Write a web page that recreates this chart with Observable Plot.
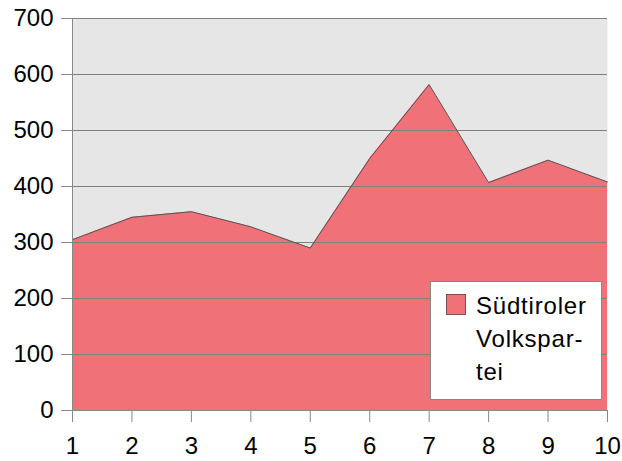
<!DOCTYPE html>
<html><head><meta charset="utf-8">
<script src="https://cdn.jsdelivr.net/npm/d3@7"></script>
<script src="https://cdn.jsdelivr.net/npm/@observablehq/plot@0.6"></script>
<style>
body{margin:0;background:#fff;font-family:"Liberation Sans",Arial,sans-serif;}
#wrap{position:relative;width:622px;height:461px;}
#legend{position:absolute;left:430px;top:281px;width:172px;height:119px;background:#fff;border:1px solid #888;box-sizing:border-box;font-size:24px;line-height:33px;color:#000;letter-spacing:0.8px;}
#legend .sw{position:absolute;left:15px;top:12px;width:20px;height:21px;background:#f07278;border:1px solid #7a5050;box-sizing:border-box;}
#legend .tx{position:absolute;left:45px;top:7px;}
</style></head>
<body><div id="wrap"></div>
<script>
const xs = [1,2,3,4,5,6,7,8,9,10];
const values = [305,345,355,328,290,450,582,407,447,408];
const seriesName = "Südtiroler Volkspartei";
const yTicks = [0,100,200,300,400,500,600,700];
const data = xs.map((x,i)=>({x, y: values[i]}));

const chart = Plot.plot({
  width: 622, height: 461,
  marginLeft: 72, marginRight: 15, marginTop: 18, marginBottom: 51,
  style: {fontFamily: '"Liberation Sans", Arial, sans-serif', fontSize: "24px", color: "#000", background: "#fff"},
  x: {domain: [1,10], label: null},
  y: {domain: [0,700], label: null},
  marks: [
    Plot.frame({fill: "#e6e6e6", stroke: null}),
    Plot.areaY(data, {x: "x", y: "y", fill: "#f07278"}),
    Plot.gridY(yTicks, {stroke: "#7f7f7f", strokeOpacity: 1, strokeWidth: 1}),
    Plot.lineY(data, {x: "x", y: "y", stroke: "#555", strokeWidth: 1}),
    Plot.axisY({ticks: yTicks, tickSize: 11, tickPadding: 8, stroke: "#888", fontSize: 24}),
    Plot.axisX({ticks: xs, tickSize: 12, tickPadding: 14, stroke: "#888", fontSize: 24, tickFormat: d=>String(d)}),
    Plot.ruleX([1], {stroke: "#888"}),
    Plot.ruleY([0], {stroke: "#888"})
  ]
});
const wrap = document.getElementById("wrap");
wrap.appendChild(chart);
const lg = document.createElement("div");
lg.id = "legend";
lg.innerHTML = '<div class="sw"></div><div class="tx">Südtiroler<br>Volkspar-<br>tei</div>';
wrap.appendChild(lg);
</script></body></html>
